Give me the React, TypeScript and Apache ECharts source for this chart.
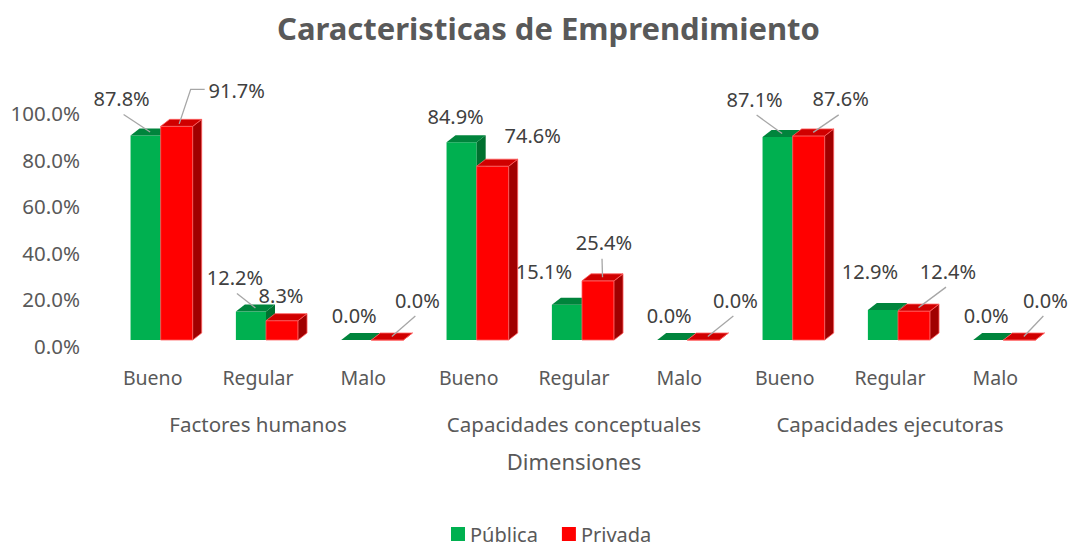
import React, { useEffect, useRef } from "react";
import * as echarts from "echarts";

const categories = ["Bueno", "Regular", "Malo", "Bueno", "Regular", "Malo", "Bueno", "Regular", "Malo"];
const groups = ["Factores humanos", "Capacidades conceptuales", "Capacidades ejecutoras"];
const yTicks = [0, 20, 40, 60, 80, 100];
const publica = [87.8, 12.2, 0.0, 84.9, 15.1, 0.0, 87.1, 12.9, 0.0];
const privada = [91.7, 8.3, 0.0, 74.6, 25.4, 0.0, 87.6, 12.4, 0.0];

// label placement relative to bar top (layout, not data): [dx, dy, leader]
const pubLabelLayout: [number, number, string][] = [
  [-24, -37, "b"], [-16, -34, "b"], [-2, -25, ""], [-6, -26, ""], [-23, -33, ""],
  [-3, -25, ""], [-23, -38, "b"], [-13, -38, ""], [-2, -25, ""],
];
const privLabelLayout: [number, number, string][] = [
  [60, -36, "l"], [-1, -25, ""], [30, -40, "b"], [40, -31, ""], [6, -38, "b"],
  [32, -40, "b"], [32, -37, "b"], [34, -40, "b"], [26, -40, "b"],
];

const FONT = "'Noto Sans', sans-serif";

function makeRender(values: number[], a: number, b: number, front: string, top: string, side: string, edge: string | null, layout: [number, number, string][]) {
  return (params: any, api: any) => {
    const idx = api.value(0);
    const v = api.value(1);
    const p0 = api.coord([idx, 0]);
    const pv = api.coord([idx, v]);
    const w = api.size([1, 0])[0];
    const c = p0[0];
    const bottom = p0[1] - 6;
    const t = pv[1] - 6;
    const x1 = c + a * w;
    const x2 = c + b * w;
    const dx = 9, dy = -7;
    const stroke = edge ? { stroke: edge, lineWidth: 0.8 } : {};
    const children: any[] = [
      { type: "rect", shape: { x: x1, y: t, width: x2 - x1, height: bottom - t }, style: { fill: front, ...stroke } },
      { type: "polygon", shape: { points: [[x2, t], [x2 + dx, t + dy], [x2 + dx, bottom + dy], [x2, bottom]] }, style: { fill: side, ...stroke } },
      { type: "polygon", shape: { points: [[x1, t], [x2, t], [x2 + dx, t + dy], [x1 + dx, t + dy]] }, style: { fill: top, ...stroke } },
    ];
    const lay = layout[params.dataIndex];
    const cx = (x1 + x2) / 2;
    const lx = cx + lay[0];
    const ly = t + lay[1];
    const ex = cx + dx / 2;
    const ey = t + dy / 2;
    if (lay[2] === "b") {
      children.push({ type: "line", shape: { x1: lx + (ex > lx ? 2 : -2), y1: ly + 16, x2: ex, y2: ey }, style: { stroke: "#A6A6A6", lineWidth: 1.3 } });
    } else if (lay[2] === "l") {
      children.push({ type: "polyline", shape: { points: [[lx - 32, ly - 1], [lx - 46, ly - 1], [ex - 2, ey + 1]] }, style: { stroke: "#A6A6A6", lineWidth: 1.3, fill: "none" } });
    }
    children.push({
      type: "text",
      style: { text: values[params.dataIndex].toFixed(1) + "%", x: lx, y: ly, align: "center", verticalAlign: "middle", font: `20px ${FONT}`, fill: "#404040" },
    });
    return { type: "group", children };
  };
}

export default function App() {
  const ref = useRef<HTMLDivElement>(null);
  useEffect(() => {
    const chart = echarts.init(ref.current!, null, { renderer: "svg" });
    chart.setOption({
      animation: false,
      backgroundColor: "#ffffff",
      title: {
        text: "Caracteristicas de Emprendimiento",
        left: 272,
        top: 7,
        textStyle: { fontSize: 31, fontWeight: "bold", color: "#595959", fontFamily: FONT },
      },
      legend: {
        bottom: -3,
        left: 446,
        itemWidth: 14,
        itemHeight: 14,
        itemGap: 24,
        icon: "rect",
        textStyle: { fontSize: 20, color: "#595959", fontFamily: FONT },
        data: ["Pública", "Privada"],
      },
      grid: { left: 100, right: 20, top: 113, bottom: 200, containLabel: false },
      xAxis: [
        {
          type: "category",
          data: categories,
          axisLine: { show: false },
          axisTick: { show: false },
          axisLabel: { interval: 0, margin: 21, fontSize: 19.5, color: "#595959", fontFamily: FONT },
        },
        {
          type: "category",
          data: groups,
          position: "bottom",
          offset: 46,
          axisLine: { show: false },
          axisTick: { show: false },
          axisLabel: { interval: 0, margin: 21, fontSize: 20.5, color: "#595959", fontFamily: FONT },
          name: "Dimensiones",
          nameLocation: "middle",
          nameGap: 58,
          nameTextStyle: { fontSize: 22, color: "#595959", fontFamily: FONT },
        },
      ],
      yAxis: {
        type: "value",
        min: yTicks[0],
        max: yTicks[yTicks.length - 1],
        interval: 20,
        splitLine: { show: false },
        axisLine: { show: false },
        axisTick: { show: false },
        axisLabel: { margin: 20, fontSize: 20.5, color: "#595959", fontFamily: FONT, formatter: (v: number) => v.toFixed(1) + "%" },
      },
      series: [
        {
          name: "Pública",
          type: "custom",
          xAxisIndex: 0,
          clip: false,
          itemStyle: { color: "#00B050" },
          renderItem: makeRender(publica, -0.21, 0.076, "#00B050", "#00843C", "#00702F", null, pubLabelLayout),
          data: publica.map((v, i) => [i, v]),
          encode: { x: 0, y: 1 },
        },
        {
          name: "Privada",
          type: "custom",
          xAxisIndex: 0,
          clip: false,
          itemStyle: { color: "#FF0000" },
          renderItem: makeRender(privada, 0.076, 0.38, "#FF0000", "#D00000", "#A00000", "#FF6060", privLabelLayout),
          data: privada.map((v, i) => [i, v]),
          encode: { x: 0, y: 1 },
        },
      ],
    });
    return () => chart.dispose();
  }, []);
  return <div ref={ref} style={{ width: 1068, height: 546, position: "fixed", left: 0, top: 0 }} />;
}
